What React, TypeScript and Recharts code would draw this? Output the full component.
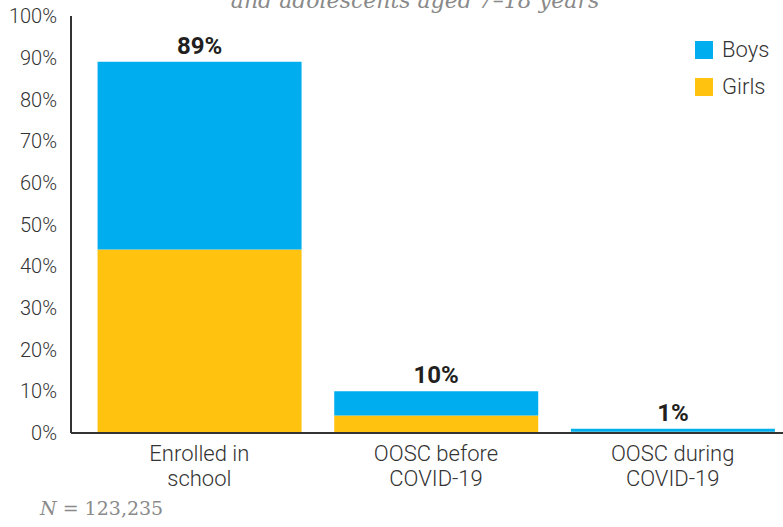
import React from "react";
import { BarChart, Bar, XAxis, YAxis, LabelList } from "recharts";

// School status of children and adolescents aged 7–18 years
const categories = ["Enrolled in\nschool", "OOSC before\nCOVID-19", "OOSC during\nCOVID-19"];
const girls = [44, 4.2, 0.3];
const boys = [45, 5.8, 0.7];
const totals = [89, 10, 1];
const yTicks = [0, 10, 20, 30, 40, 50, 60, 70, 80, 90, 100];

const BLUE = "#00AEEF";
const YELLOW = "#FFC20E";
const AXIS = "#333333";
const FONT = "Roboto, 'Liberation Sans', sans-serif";

const data = categories.map((name, i) => ({
  name,
  girls: girls[i],
  boys: boys[i],
  total: totals[i],
}));

const CategoryTick = (props: any) => {
  const { x, y, payload } = props;
  const lines = String(payload.value).split("\n");
  return (
    <g transform={`translate(${x},${y})`}>
      {lines.map((line, i) => (
        <text
          key={i}
          x={0}
          y={20 + i * 25}
          textAnchor="middle"
          fill="#333"
          fontSize={22}
          fontWeight={300}
          fontFamily={FONT}
        >
          {line}
        </text>
      ))}
    </g>
  );
};

const TotalLabel = (props: any) => {
  const { x, y, width, index } = props;
  return (
    <text
      x={x + width / 2}
      y={y - 8}
      textAnchor="middle"
      fill="#231F20"
      fontSize={24}
      fontWeight="bold"
      fontFamily={FONT}
    >
      {`${totals[index]}%`}
    </text>
  );
};

const legendItems = [
  { label: "Boys", color: BLUE },
  { label: "Girls", color: YELLOW },
];

export default function App() {
  return (
    <div style={{ position: "absolute", left: 0, top: 0, width: 800, height: 527, overflow: "visible" }}>
      <div
        style={{
          position: "absolute",
          left: 0,
          width: 830,
          top: -12,
          textAlign: "center",
          fontFamily: "'DejaVu Serif', serif",
          fontStyle: "italic",
          fontSize: 22,
          color: "#8a8a8a",
          whiteSpace: "nowrap",
        }}
      >
        and adolescents aged 7–18 years
      </div>
      <BarChart
        width={800}
        height={527}
        data={data}
        margin={{ top: 16, right: 9, bottom: 34, left: 0 }}
        barCategoryGap="7%"
      >
        <YAxis
          width={71}
          domain={[0, 100]}
          ticks={yTicks}
          interval={0}
          tickFormatter={(v: number) => `${v}%`}
          tickLine={false}
          axisLine={{ stroke: AXIS, strokeWidth: 2 }}
          tick={{ fill: "#333", fontSize: 20, fontWeight: 300, fontFamily: FONT }}
          tickMargin={8}
        />
        <XAxis
          dataKey="name"
          height={60}
          tickLine={false}
          axisLine={{ stroke: AXIS, strokeWidth: 2 }}
          tick={<CategoryTick />}
          interval={0}
          padding={{ left: 10, right: 0 }}
        />
        <Bar dataKey="girls" stackId="a" fill={YELLOW} isAnimationActive={false} />
        <Bar dataKey="boys" stackId="a" fill={BLUE} isAnimationActive={false}>
          <LabelList dataKey="total" content={<TotalLabel />} />
        </Bar>
      </BarChart>
      <div style={{ position: "absolute", left: 695, top: 31, fontFamily: FONT }}>
        {legendItems.map((item) => (
          <div key={item.label} style={{ display: "flex", alignItems: "center", height: 37 }}>
            <span style={{ width: 18, height: 18, background: item.color, display: "inline-block", marginRight: 9 }} />
            <span style={{ fontSize: 22, fontWeight: 300, color: "#333" }}>{item.label}</span>
          </div>
        ))}
      </div>
      <div
        style={{
          position: "absolute",
          left: 40,
          top: 497,
          fontFamily: "'DejaVu Serif', serif",
          fontSize: 19,
          color: "#8a8a8a",
          whiteSpace: "nowrap",
        }}
      >
        <span style={{ fontStyle: "italic" }}>N</span> = 123,235
      </div>
    </div>
  );
}
